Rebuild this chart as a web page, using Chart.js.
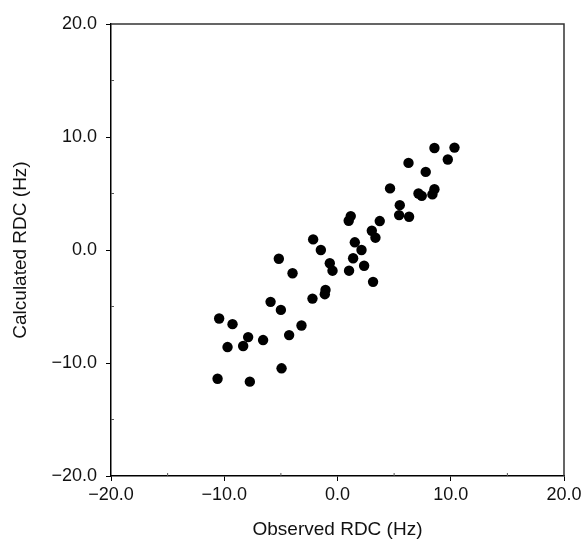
<!DOCTYPE html>
<html>
<head>
<meta charset="utf-8">
<script src="https://cdn.jsdelivr.net/npm/chart.js@4.4.1/dist/chart.umd.min.js"></script>
<style>
  html, body { margin: 0; padding: 0; background: #fff; }
  #wrap { width: 586px; height: 543px; }
</style>
</head>
<body>
<div id="wrap"><canvas id="rdcChart"></canvas></div>
<script>
// Observed vs calculated RDC values (Hz)
const observedRDC = [
  -10.45, -9.27, -9.71, -8.33, -7.89, -10.59, -7.74, -6.57, -5.91, -5.18,
  -5.00, -4.94, -4.27, -3.97, -3.18, -2.21, -2.15, -1.47, -1.06, -1.12,
  -0.68, -0.44, 1.17, 0.99, 1.53, 2.12, 1.38, 1.02, 2.35, 3.14,
  3.03, 3.35, 3.73, 4.64, 5.50, 5.44, 6.32, 6.27, 7.15, 7.44,
  7.79, 8.56, 8.38, 8.56, 9.74, 10.33
];
const calculatedRDC = [
  -6.06, -6.56, -8.59, -8.50, -7.71, -11.39, -11.65, -7.97, -4.59, -0.77,
  -5.30, -10.47, -7.53, -2.06, -6.68, -4.30, 0.94, 0.00, -3.53, -3.91,
  -1.17, -1.83, 3.00, 2.59, 0.68, 0.00, -0.73, -1.83, -1.39, -2.82,
  1.70, 1.09, 2.56, 5.45, 3.97, 3.09, 2.94, 7.71, 5.00, 4.79,
  6.91, 5.38, 4.92, 9.03, 8.01, 9.06
];
const axisMin = -20;
const axisMax = 20;
const tickStep = 5;

const points = observedRDC.map((x, i) => ({ x: x, y: calculatedRDC[i] }));

const FONT = '"Liberation Sans", Arial, Helvetica, sans-serif';

function fmtTick(v) {
  if (v % 10 !== 0) return '';
  const s = Math.abs(v).toFixed(1);
  return v < 0 ? '\u2212' + s : s;
}

// frame on top/right plus small inward minor ticks
const framePlugin = {
  id: 'frame',
  afterDraw(chart) {
    const { ctx, chartArea: a, scales } = chart;
    ctx.save();
    ctx.strokeStyle = '#333';
    ctx.lineWidth = 1.5;
    ctx.beginPath();
    ctx.moveTo(a.left, a.top);
    ctx.lineTo(a.right, a.top);
    ctx.lineTo(a.right, a.bottom);
    ctx.stroke();
    ctx.strokeStyle = '#555';
    ctx.lineWidth = 1;
    ctx.beginPath();
    for (let v = axisMin + 5; v < axisMax; v += 10) {
      const px = scales.x.getPixelForValue(v);
      ctx.moveTo(px, a.bottom);
      ctx.lineTo(px, a.bottom - 3);
      const py = scales.y.getPixelForValue(v);
      ctx.moveTo(a.left, py);
      ctx.lineTo(a.left + 3, py);
    }
    ctx.stroke();
    ctx.restore();
  }
};

const ctx = document.getElementById('rdcChart').getContext('2d');
const rdcChart = new Chart(ctx, {
  type: 'scatter',
  data: {
    datasets: [{
      label: 'RDC',
      data: points,
      backgroundColor: '#000',
      borderColor: '#000',
      borderWidth: 0,
      pointRadius: 5.2,
      pointHoverRadius: 5.2
    }]
  },
  options: {
    responsive: true,
    maintainAspectRatio: false,
    animation: false,
    layout: { padding: { top: 24, right: 22, left: 0, bottom: 0 } },
    plugins: {
      legend: { display: false },
      tooltip: { enabled: false }
    },
    scales: {
      x: {
        type: 'linear',
        min: axisMin,
        max: axisMax,
        afterFit: (scale) => { scale.height = 67; },
        border: { display: true, color: '#000', width: 1.5 },
        grid: {
          drawOnChartArea: false,
          tickLength: 5,
          tickColor: (c) => (c.tick && c.tick.value % 10 === 0 ? '#000' : 'rgba(0,0,0,0)')
        },
        ticks: {
          stepSize: tickStep,
          autoSkip: false,
          maxRotation: 0,
          padding: 3,
          color: '#111',
          font: { family: FONT, size: 18 },
          callback: fmtTick
        },
        title: {
          display: true,
          text: 'Observed RDC (Hz)',
          color: '#111',
          font: { family: FONT, size: 19 },
          padding: { top: 0, bottom: 2 }
        }
      },
      y: {
        type: 'linear',
        min: axisMin,
        max: axisMax,
        afterFit: (scale) => { scale.width = 111; },
        border: { display: true, color: '#000', width: 1.5 },
        grid: {
          drawOnChartArea: false,
          tickLength: 5,
          tickColor: (c) => (c.tick && c.tick.value % 10 === 0 ? '#000' : 'rgba(0,0,0,0)')
        },
        ticks: {
          stepSize: tickStep,
          autoSkip: false,
          padding: 9,
          color: '#111',
          font: { family: FONT, size: 18 },
          callback: fmtTick
        },
        title: {
          display: true,
          text: 'Calculated RDC (Hz)',
          color: '#111',
          font: { family: FONT, size: 19 },
          padding: { top: 9, bottom: 0 }
        }
      }
    }
  },
  plugins: [framePlugin]
});
</script>
</body>
</html>
